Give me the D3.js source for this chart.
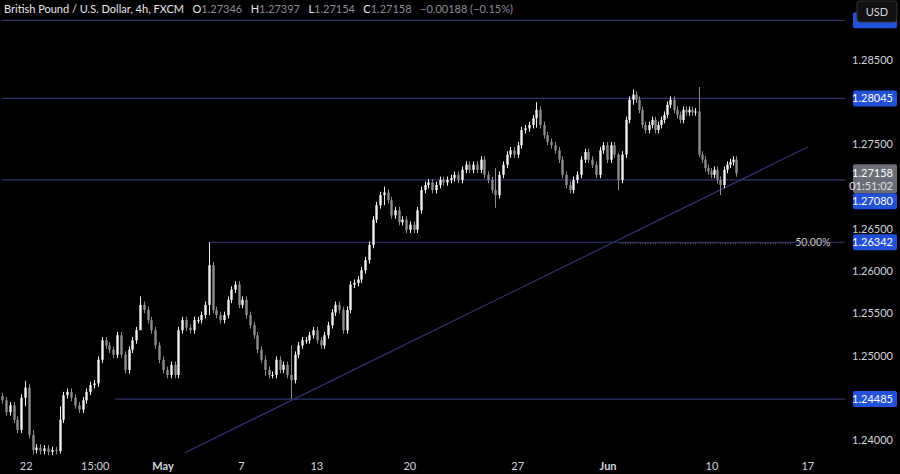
<!DOCTYPE html>
<html><head><meta charset="utf-8">
<script src="https://cdn.jsdelivr.net/npm/d3@7"></script>
<style>body{margin:0;background:#000;overflow:hidden}svg{display:block}text{font-family:Lato,"Open Sans",sans-serif}</style>
</head><body><svg id="c" width="900" height="474"></svg>
<script>
// closes of the 4h candles
const closes = [1.2447,1.2433,1.2441,1.2424,1.2412,1.2450,1.2462,1.2406,1.2388,1.2391,1.2387,1.2390,1.2386,1.2388,1.2387,
1.2424,1.2453,1.2457,1.2450,1.2441,1.2436,1.2447,1.2457,1.2465,1.2467,1.2495,1.2518,1.2512,1.2507,1.2501,1.2524,1.2501,1.2483,1.2507,1.2518,1.2530,1.2560,1.2554,1.2542,1.2530,1.2512,1.2495,1.2483,1.2477,1.2489,1.2477,1.2530,1.2542,1.2533,1.2530,1.2542,1.2542,1.2548,1.2560,1.2607,1.2554,1.2548,1.2542,1.2548,1.2566,1.2578,1.2584,1.2560,1.2566,1.2548,1.2536,1.2524,1.2507,1.2495,1.2483,1.2477,1.2477,1.2495,1.2483,1.2489,1.2477,1.2471,1.2501,1.2512,1.2518,1.2518,1.2524,1.2530,1.2518,1.2512,1.2524,1.2536,1.2551,1.2560,1.2554,1.2530,1.2554,1.2584,1.2586,1.2590,1.2601,1.2613,1.2631,1.2661,1.2678,1.2690,1.2693,1.2684,1.2666,1.2672,1.2658,1.2661,1.2649,1.2655,1.2649,1.2672,1.2696,1.2702,1.2705,1.2696,1.2702,1.2708,1.2705,1.2708,1.2710,1.2714,1.2708,1.2720,1.2726,1.2720,1.2726,1.2720,1.2732,1.2714,1.2708,1.2696,1.2690,1.2714,1.2726,1.2738,1.2743,1.2738,1.2749,1.2767,1.2769,1.2773,1.2781,1.2791,1.2773,1.2761,1.2753,1.2749,1.2743,1.2732,1.2714,1.2702,1.2696,1.2708,1.2714,1.2732,1.2741,1.2732,1.2726,1.2714,1.2743,1.2749,1.2732,1.2749,1.2738,1.2708,1.2738,1.2779,1.2803,1.2809,1.2803,1.2791,1.2773,1.2767,1.2773,1.2779,1.2767,1.2773,1.2779,1.2785,1.2797,1.2803,1.2791,1.2785,1.2779,1.2791,1.2788,1.2791,1.2788,1.2789,1.2738,1.2732,1.2722,1.2718,1.2714,1.2720,1.2708,1.2702,1.2720,1.2726,1.2729,1.2732,1.27158];
const firstOpen = 1.2452;
// notable wick extremes: [candle index, high, low]
const wicks = [[6,1.2470,1.2440],[8,1.2412,1.2383],[15,1.2440,1.2384],[36,1.2570,1.2540],[54,1.26342,1.2548],[69,1.2500,1.2476],[76,1.2512,1.24485],[101,1.2700,1.2678],[131,1.2722,1.2675],[142,1.2800,1.2770],[164,1.2740,1.2696],[168,1.2815,1.2797],[189,1.2818,1.2735],[196,1.2712,1.2690]];
const levels = [{p:1.28970,from:0},{p:1.28045,from:0},{p:1.27080,from:0},{p:1.26342,from:54},{p:1.24485,from:29.5}];
const trend = [[47.7,1.2385],[224,1.2747]];
const priceTicks = [1.285,1.28,1.275,1.27,1.265,1.26,1.255,1.25,1.245,1.24];
const timeTicks = [{i:6.3,t:"22"},{i:24.3,t:"15:00"},{i:42,t:"May",b:1},{i:62.7,t:"7"},{i:83,t:"13"},{i:108,t:"20"},{i:137,t:"27"},{i:161.3,t:"Jun",b:1},{i:193.3,t:"10"},{i:224,t:"17"}];
const fib = {p:1.26342,from:164.5,to:219,label:"50.00%"};

const svg = d3.select("#c");
const W=845;
const x = d3.scaleLinear().domain([0,54,168,201]).range([2,209,633,736]);
const y = d3.scaleLinear().domain([1.24,1.285]).range([440,60]);
const lineC="#2f3470";
svg.append("rect").attr("width",900).attr("height",474).attr("fill","#000");
levels.forEach(l=>svg.append("line").attr("x1",x(l.from)).attr("x2",W).attr("y1",y(l.p)).attr("y2",y(l.p)).attr("stroke",lineC).attr("stroke-width",1.2));
svg.append("line").attr("x1",x(fib.from)).attr("x2",x(fib.to)).attr("y1",y(fib.p)+1).attr("y2",y(fib.p)+1).attr("stroke","#777").attr("stroke-dasharray","1,1.5");
svg.append("text").attr("x",x(fib.to)+3).attr("y",y(fib.p)+4).attr("fill","#c8c8c8").attr("font-size",10.5).text(fib.label);
svg.append("line").attr("x1",x(trend[0][0])).attr("y1",y(trend[0][1])).attr("x2",x(trend[1][0])).attr("y2",y(trend[1][1])).attr("stroke",lineC).attr("stroke-width",1.2);
const wm=new Map(wicks.map(w=>[w[0],w]));
const g=svg.append("g");
closes.forEach((c,i)=>{
  const o=i?closes[i-1]:firstOpen;
  let hi=Math.max(o,c)+0.0004, lo=Math.min(o,c)-0.0004;
  if(wm.has(i)){hi=wm.get(i)[1];lo=wm.get(i)[2];}
  const up=c>=o, col=up?"#f0f0f0":"#8c8c8c";
  const cx=Math.round(x(i))+0.5;
  g.append("line").attr("x1",cx).attr("x2",cx).attr("y1",y(hi)).attr("y2",y(lo)).attr("stroke",col).attr("stroke-width",1);
  const t=y(Math.max(o,c)),b=y(Math.min(o,c));
  g.append("rect").attr("x",cx-1.2).attr("width",2.4).attr("y",t).attr("height",Math.max(1,b-t)).attr("fill",col);
});
const ax=svg.append("g");
const last=closes[closes.length-1];
const ly=y(last);
const busy=levels.map(l=>l.p).concat([last]);
priceTicks.filter(p=>busy.every(b=>Math.abs(y(b)-y(p))>13)).forEach(p=>ax.append("text").attr("x",893).attr("y",y(p)+4).attr("text-anchor","end").attr("fill","#d1d4dc").attr("font-size",11).text(p.toFixed(5)));
levels.forEach(l=>{
  let yy=y(l.p);
  if(Math.abs(yy-ly)<20) yy=ly+28;
  ax.append("rect").attr("x",853).attr("y",yy-8).attr("width",44).attr("height",16).attr("rx",2).attr("fill","#2250d8");
  if(yy>30) ax.append("text").attr("x",893).attr("y",yy+4).attr("text-anchor","end").attr("fill","#fff").attr("font-size",11).text(l.p.toFixed(5));
});
ax.append("rect").attr("x",853).attr("y",ly-9).attr("width",44).attr("height",29).attr("rx",2).attr("fill","#6b6e78");
ax.append("text").attr("x",893).attr("y",ly+4).attr("text-anchor","end").attr("fill","#fff").attr("font-size",11).text(last.toFixed(5));
ax.append("text").attr("x",893).attr("y",ly+17).attr("text-anchor","end").attr("fill","#e0e0e0").attr("font-size",11).text("01:51:02");
svg.append("rect").attr("x",857).attr("y",1).attr("width",40).attr("height",21).attr("rx",3).attr("fill","#111").attr("stroke","#333");
svg.append("text").attr("x",877).attr("y",15.5).attr("text-anchor","middle").attr("fill","#d1d4dc").attr("font-size",11).text("USD");
timeTicks.forEach(t=>svg.append("text").attr("x",x(t.i)).attr("y",470).attr("text-anchor","middle").attr("fill","#d1d4dc").attr("font-size",11).attr("font-weight",t.b?"bold":"normal").text(t.t));
const h=svg.append("text").attr("x",4).attr("y",13).attr("font-size",11).attr("xml:space","preserve").style("white-space","pre");
h.append("tspan").attr("fill","#e8e8e8").text("British Pound / U.S. Dollar, 4h, FXCM   ");
[["O","1.27346"],["H","1.27397"],["L","1.27154"],["C","1.27158"]].forEach(([k,v])=>{h.append("tspan").attr("fill","#e8e8e8").text(k);h.append("tspan").attr("fill","#8a8d96").text(v+"   ");});
h.append("tspan").attr("fill","#8a8d96").text("−0.00188 (−0.15%)");
</script></body></html>
